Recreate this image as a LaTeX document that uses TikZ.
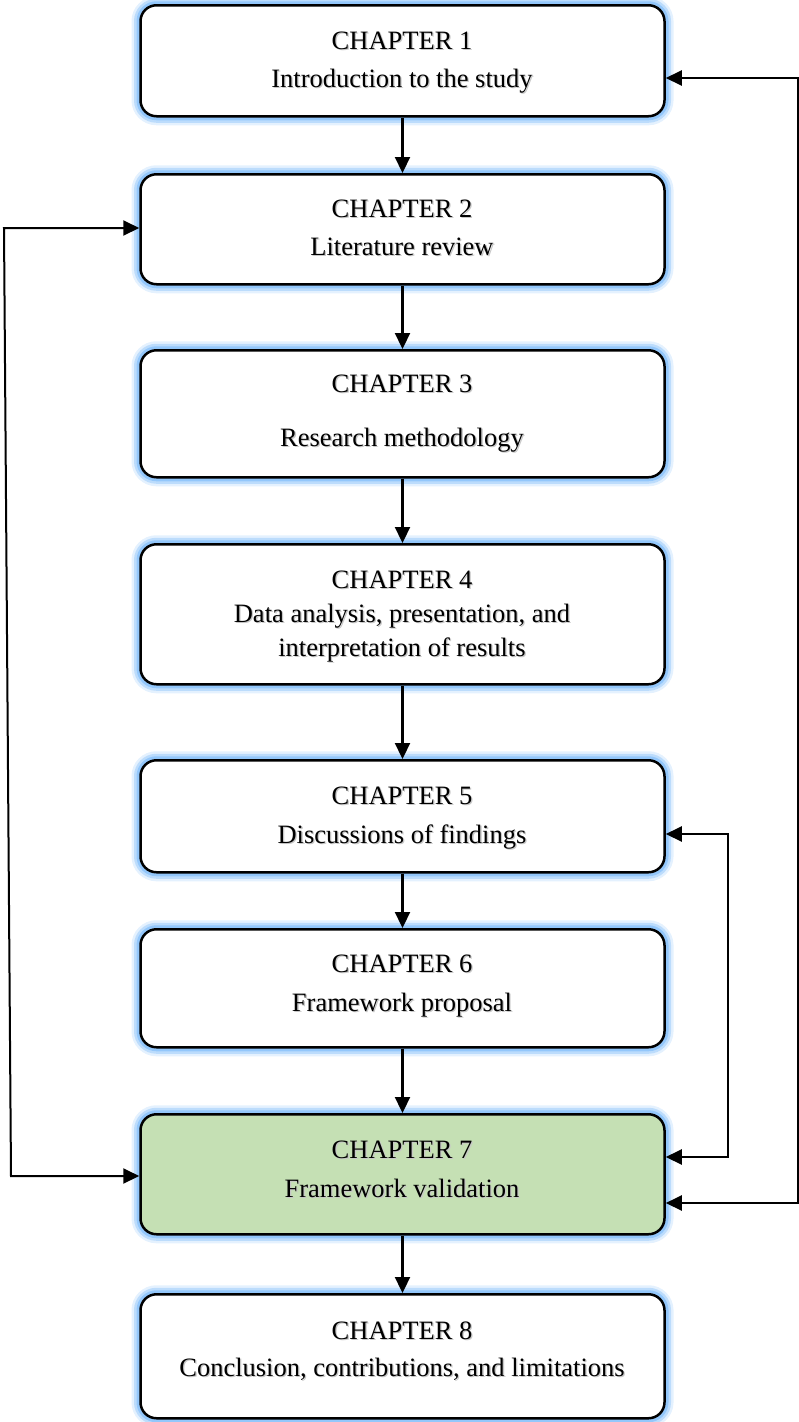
\documentclass[tikz,border=0pt]{standalone}
\usepackage{fontspec}
\setmainfont{Liberation Serif}
\usetikzlibrary{arrows.meta}
\definecolor{glowc}{RGB}{130,190,250}
\definecolor{valfill}{RGB}{197,224,180}
\tikzset{
  chap/.style={draw=black, line width=2.5pt, rounded corners=16pt, fill=white,
    minimum width=524pt, inner sep=0pt, anchor=north,
    preaction={draw=glowc, line width=18pt, opacity=0.22},
    preaction={draw=glowc, line width=13pt, opacity=0.4},
    preaction={draw=glowc, line width=8pt, opacity=0.7}},
  txt/.style={anchor=base, inner sep=0pt, font=\fontsize{26.5}{31}\selectfont},
  shd/.style={txt, text=black!22, xshift=1.3pt, yshift=-1.3pt},
  darr/.style={line width=2pt, {Triangle[length=16pt,width=15pt]}-{Triangle[length=16pt,width=15pt]}},
  arr/.style={line width=2.2pt, -{Triangle[length=16pt,width=15pt]}}
}
\newcommand\chline[3]{%
  \node[shd] at (402,#2) {#3};
  \node[txt] (#1) at (402,#2) {#3};}
\begin{document}
\begin{tikzpicture}[x=1pt,y=-1pt]
\useasboundingbox (0,0) rectangle (799,1422);
% chapter boxes
\node[chap, minimum height=111pt] (c1) at (402.5,4) {};
\node[chap, minimum height=110pt] (c2) at (402.5,173) {};
\node[chap, minimum height=127pt] (c3) at (402.5,349) {};
\node[chap, minimum height=140pt] (c4) at (402.5,543) {};
\node[chap, minimum height=112pt] (c5) at (402.5,759) {};
\node[chap, minimum height=118pt] (c6) at (402.5,928) {};
\node[chap, minimum height=120pt, fill=valfill] (c7) at (402.5,1113) {};
\node[chap, minimum height=124pt] (c8) at (402.5,1293) {};
% texts
\chline{t1a}{49}{CHAPTER 1}
\chline{t1b}{87}{Introduction to the study}
\chline{t2a}{217}{CHAPTER 2}
\chline{t2b}{255}{Literature review}
\chline{t3a}{392}{CHAPTER 3}
\chline{t3b}{446}{Research methodology}
\chline{t4a}{588}{CHAPTER 4}
\chline{t4b}{622}{Data analysis, presentation, and}
\chline{t4c}{656}{interpretation of results}
\chline{t5a}{804}{CHAPTER 5}
\chline{t5b}{843}{Discussions of findings}
\chline{t6a}{972}{CHAPTER 6}
\chline{t6b}{1011}{Framework proposal}
\chline{t7a}{1158}{CHAPTER 7}
\chline{t7b}{1197}{Framework validation}
\chline{t8a}{1339}{CHAPTER 8}
\chline{t8b}{1376}{Conclusion, contributions, and limitations}
% straight sequence
\foreach \a/\b in {c1/c2,c2/c3,c3/c4,c4/c5,c5/c6,c6/c7,c7/c8}
  \draw[arr] (\a.south) -- (\b.north);
% feedback loops
\coordinate (o1) at (798,78);
\coordinate (o2) at (798,1203);
\draw[darr] (c1.east |- o1) -- (o1) -- (o2) -- (c7.east |- o2);
\coordinate (i1) at (728,834);
\coordinate (i2) at (728,1157);
\draw[darr] (c5.east |- i1) -- (i1) -- (i2) -- (c7.east |- i2);
\coordinate (l1) at (4,228);
\coordinate (l2) at (11,1176);
\draw[darr] (c2.west |- l1) -- (l1) -- (l2) -- (c7.west |- l2);
\end{tikzpicture}
\end{document}
